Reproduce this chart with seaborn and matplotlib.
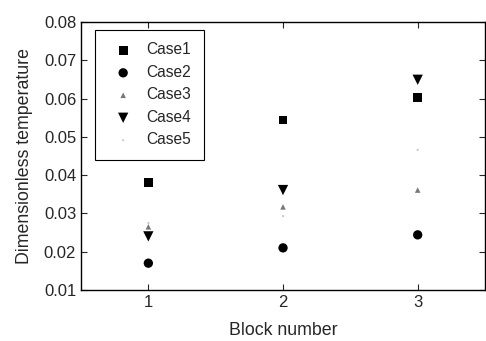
import numpy as np
import pandas as pd
import seaborn as sns
from matplotlib import pyplot as plt

blocks = [1, 2, 3]
case1 = [0.038, 0.0544, 0.0603]
case2 = [0.017, 0.021, 0.0244]
case3 = [0.0265, 0.0317, 0.0361]
case4 = [0.024, 0.0361, 0.0649]
case5 = [0.0275, 0.0293, 0.0466]
names = ['Case1', 'Case2', 'Case3', 'Case4', 'Case5']

sns.set_style('ticks')
plt.rcParams['font.family'] = ['Liberation Sans', 'DejaVu Sans']
plt.rcParams['xtick.direction'] = 'in'
plt.rcParams['ytick.direction'] = 'in'

df = pd.DataFrame({
    'block': blocks * 5,
    'temp': case1 + case2 + case3 + case4 + case5,
    'case': np.repeat(names, 3),
})

styles = {
    'Case1': dict(marker='s', color='black', s=40),
    'Case2': dict(marker='o', color='black', s=45),
    'Case3': dict(marker='^', color='#777777', s=16),
    'Case4': dict(marker='v', color='black', s=55),
    'Case5': dict(marker='.', color='#c8c8c8', s=10),
}

fig = plt.figure(figsize=(4.86, 3.41), dpi=100)
ax = fig.add_axes([0.1667, 0.1496, 0.8313, 0.786])
for name in names:
    sub = df[df['case'] == name]
    sns.scatterplot(data=sub, x='block', y='temp', ax=ax, label=name,
                    edgecolor='none', **styles[name])

ax.set_xlim(0.5, 3.5)
ax.set_ylim(0.01, 0.08)
ax.set_xticks(blocks)
ax.set_yticks(np.arange(0.01, 0.081, 0.01))
ax.set_yticklabels(['{:.2f}'.format(v) for v in np.arange(0.01, 0.081, 0.01)])
ax.tick_params(top=True, right=True, labelsize=12, length=4, width=0.8)
for sp in ax.spines.values():
    sp.set_linewidth(1.0)
    sp.set_color('black')
ax.set_xlabel('Block number', fontsize=12.8, labelpad=9)
ax.set_ylabel('Dimensionless temperature', fontsize=12.8, labelpad=8)

leg = ax.legend(loc='upper left', bbox_to_anchor=(0.035, 0.97), borderaxespad=0,
                fontsize=11.2, frameon=True, fancybox=False, edgecolor='black',
                framealpha=1, handletextpad=0.5, borderpad=0.8, labelspacing=0.48)
leg.get_frame().set_linewidth(0.8)

fig.savefig('out.png', dpi=100)
plt.close()
